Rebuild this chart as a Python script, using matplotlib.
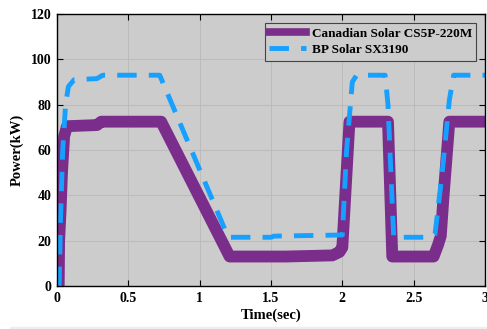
import matplotlib.pyplot as plt
from matplotlib.patches import Rectangle

plt.rcParams['font.family'] = ['Liberation Serif', 'DejaVu Serif']
plt.rcParams['font.weight'] = 'bold'

# Canadian Solar CS5P-220M output
t_cs = [0.012, 0.015, 0.025, 0.035, 0.05, 0.07, 0.28, 0.31, 0.73, 1.21, 1.6,
        1.93, 1.98, 2.0, 2.05, 2.32, 2.35, 2.64, 2.67, 2.69, 2.71, 2.75, 3.0]
p_cs = [0, 20, 33, 50, 66, 70.5, 71, 72.5, 72.5, 13, 13,
        13.5, 15, 17, 72.5, 72.5, 13, 13, 18, 22, 40, 72.5, 72.5]

# BP Solar SX3190 output
t_bp = [0.015, 0.025, 0.04, 0.06, 0.08, 0.12, 0.28, 0.32, 0.72, 1.2, 1.5,
        1.52, 2.0, 2.03, 2.07, 2.1, 2.3, 2.32, 2.36, 2.62, 2.65, 2.7,
        2.75, 2.78, 3.0]
p_bp = [0, 30, 60, 80, 88, 91, 91.5, 93, 93, 21.5, 21.5,
        22, 22.5, 60, 90, 93, 93, 80, 21.5, 21.5, 23, 50,
        82, 93, 93]

fig = plt.figure(figsize=(4.87, 3.29), dpi=100)
ax = fig.add_axes([57/487, 1 - 286/329, 428/487, 272/329])
ax.set_facecolor('#cccccc')

ax.plot(t_cs, p_cs, color='#7b2d8b', lw=8.5, solid_joinstyle='round',
        label='Canadian Solar CS5P-220M')
ax.plot(t_bp, p_bp, color='#16a0ff', lw=3.5, linestyle=(0, (4, 2.5)),
        label='BP Solar SX3190')

ax.set_xlim(0, 3)
ax.set_ylim(0, 120)
ax.set_xticks([0, 0.5, 1, 1.5, 2, 2.5, 3])
ax.set_xticklabels(['0', '0.5', '1', '1.5', '2', '2.5', '3'])
ax.set_yticks(range(0, 121, 20))
ax.grid(True, color='#b8b8b8', lw=0.6)
ax.tick_params(direction='in', length=4, top=True, right=True,
               labelsize=10, width=0.8, pad=4)
for s in ax.spines.values():
    s.set_linewidth(1.0)

ax.set_xlabel('Time(sec)', fontsize=10.5, fontweight='bold', labelpad=3)
ax.set_ylabel('Power(kW)', fontsize=10.5, fontweight='bold', labelpad=5)

leg = ax.legend(loc='upper right', bbox_to_anchor=(0.98, 0.967),
                borderaxespad=0, fontsize=9.5, fancybox=False,
                handlelength=2.8, handletextpad=0.4, borderpad=0.35,
                labelspacing=0.3, facecolor='#cccccc', framealpha=1)
leg.get_frame().set_edgecolor('#444444')
leg.get_frame().set_linewidth(0.8)
leg.legend_handles[0].set_linewidth(5.5)

fig.patches.append(Rectangle((10/487, 0), 1, 2.5/329, transform=fig.transFigure,
                             color='#eeeeee', zorder=-1))

fig.savefig('out.png', dpi=100)
